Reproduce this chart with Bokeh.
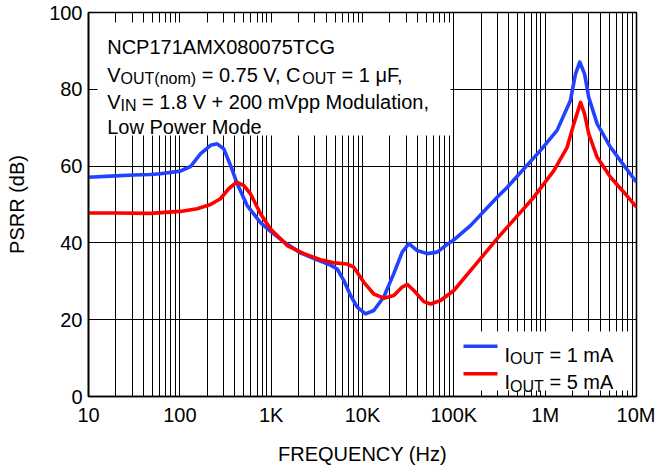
import math
from bokeh.plotting import figure
from bokeh.models import (ColumnDataSource, FixedTicker, BoxAnnotation, Label,
                          Arrow, Range1d)
from bokeh.embed import file_html
from bokeh.resources import INLINE

# ---------------- data ----------------
freq_1mA = [10, 17.4, 31.3, 47.7, 61, 101, 131, 168, 217, 256, 303, 359, 425, 547,
            764, 985, 1375, 2094, 3190, 4467, 5286, 6250, 7400, 8750, 10800, 13300,
            17100, 22000, 27200, 32200, 39700, 51000, 65700, 84500, 100000, 152000,
            298000, 385000, 889000, 1350000, 1890000, 2150000, 2390000, 2700000,
            3000000, 3710000, 5200000, 7270000, 10000000]
psrr_1mA = [57.1, 57.4, 57.7, 57.8, 58.0, 58.7, 59.9, 63.2, 65.4, 65.8, 64.5, 60.2, 55.4, 49.7,
            45.3, 43.0, 40.3, 37.4, 35.6, 34.2, 33.2, 30.2, 26.3, 23.3, 21.5, 22.4,
            25.9, 32.0, 37.6, 39.8, 38.0, 37.2, 37.6, 39.6, 40.8, 44.5,
            51.9, 54.5, 64.1, 69.3, 77.1, 84.0, 87.1, 84.0,
            77.9, 71.0, 64.9, 60.2, 55.8]

freq_5mA = [10, 20, 47.7, 101, 155, 217, 278, 343, 418, 503, 593, 764, 985, 1500, 2280,
            3470, 4850, 6800, 8000, 10300, 13300, 17100, 22000, 27200, 30900, 36500,
            46900, 55600, 71500, 100000, 152000, 196000, 298000, 385000, 751000,
            1250000, 1740000, 2060000, 2440000, 2700000, 3000000, 3710000, 5200000,
            7270000, 10000000]
psrr_5mA = [47.8, 47.8, 47.7, 48.2, 48.9, 50.0, 51.5, 54.1, 55.8, 54.9, 52.8, 47.6, 43.6, 39.3, 37.2,
            35.6, 34.8, 34.5, 33.7, 29.8, 26.7, 25.6, 26.3, 28.5, 29.2, 27.6,
            24.7, 24.1, 25.0, 27.6, 32.8, 35.9, 41.1, 44.1, 51.9,
            58.9, 64.9, 71.0, 76.6, 73.6, 68.4, 62.3, 57.1,
            53.2, 49.3]

series_values = ["1 mA", "5 mA"]
series_colors = ["#2342FF", "#FF0000"]

x_ticks = [10, 100, 1000, 10000, 100000, 1000000, 10000000]
x_tick_labels = ["10", "100", "1K", "10K", "100K", "1M", "10M"]
y_ticks = [0, 20, 40, 60, 80, 100]
y_tick_labels = ["0", "20", "40", "60", "80", "100"]
x_title = "FREQUENCY (Hz)"
y_title = "PSRR (dB)"

note_lines = [
    [("NCP171AMX080075TCG", "m")],
    [("V", "m"), ("OUT(nom)", "s"), (" = 0.75 V, C", "m"), ("OUT", "s"), (" = 1 \u03bcF,", "m")],
    [("V", "m"), ("IN", "s"), (" = 1.8 V + 200 mVpp Modulation,", "m")],
    [("Low Power Mode", "m")],
]

# ---------------- layout helpers ----------------
FONT = "Liberation Sans"
FS, SUB = 20, 16
X0, DEC = 88.0, 91.33      # page px of 10 Hz, px per decade
Y0, PPU = 396.0, 3.84      # page px of 0 dB, px per dB


def fx(px):
    return 10 ** (1 + (px - X0) / DEC)


def fy(py):
    return (Y0 - py) / PPU


W = {' ': 278, '(': 333, ')': 333, ',': 278, '.': 278, '=': 584, '+': 584,
     'A': 667, 'C': 722, 'F': 611, 'G': 778, 'I': 278, 'L': 556, 'M': 833, 'N': 722,
     'O': 778, 'P': 667, 'T': 611, 'U': 722, 'V': 667, 'X': 667, 'a': 556, 'd': 556,
     'e': 556, 'i': 222, 'l': 222, 'm': 833, 'n': 556, 'o': 556, 'p': 556, 'r': 333,
     't': 278, 'u': 556, 'w': 722, '\u03bc': 576}
for d in "0123456789":
    W[d] = 556


def tw(s, size):
    return sum(W.get(c, 556) for c in s) * size / 1000.0


p = figure(width=655, height=468, x_axis_type="log",
           x_range=Range1d(10, 1e7), y_range=Range1d(0, 100),
           output_backend="svg", toolbar_location=None, title=None,
           min_border_left=88, min_border_right=19, min_border_top=12,
           min_border_bottom=72)
p.background_fill_color = "white"
p.border_fill_color = "white"
p.outline_line_color = "black"
p.outline_line_width = 1.6

# axes
for ax, ticks, labels, title in [(p.xaxis[0], x_ticks, x_tick_labels, x_title),
                                 (p.yaxis[0], y_ticks, y_tick_labels, y_title)]:
    ax.ticker = FixedTicker(ticks=ticks)
    ax.major_label_overrides = {t: l for t, l in zip(ticks, labels)}
    ax.axis_label = title
    ax.axis_line_color = "black"
    ax.axis_line_width = 1.6
    ax.major_tick_line_color = None
    ax.minor_tick_line_color = None
    ax.major_tick_out = 0
    ax.major_tick_in = 0
    ax.major_label_text_font = FONT
    ax.major_label_text_font_size = "20px"
    ax.major_label_text_color = "black"
    ax.axis_label_text_font = FONT
    ax.axis_label_text_font_size = "20px"
    ax.axis_label_text_font_style = "normal"
    ax.axis_label_text_color = "black"
p.xaxis.major_label_standoff = 7
p.xaxis.axis_label_standoff = 14
p.yaxis.major_label_standoff = 6
p.yaxis.axis_label_standoff = 18

minor = [m * 10 ** d for d in range(1, 7) for m in range(2, 10)]
p.xgrid.ticker = FixedTicker(ticks=x_ticks, minor_ticks=minor)
p.xgrid.grid_line_color = "black"
p.xgrid.grid_line_width = 1
p.xgrid.minor_grid_line_color = "black"
p.xgrid.minor_grid_line_width = 1
p.ygrid.ticker = FixedTicker(ticks=y_ticks)
p.ygrid.grid_line_color = "black"
p.ygrid.grid_line_width = 1

for f, v, c in [(freq_1mA, psrr_1mA, series_colors[0]), (freq_5mA, psrr_5mA, series_colors[1])]:
    src = ColumnDataSource(dict(f=f, psrr=v))
    p.line("f", "psrr", source=src, line_color=c, line_width=3.6, line_join="round")

# white boxes behind the note and the legend
p.add_layout(BoxAnnotation(left=fx(97), right=fx(450), top=fy(22), bottom=fy(135),
                           fill_color="white", fill_alpha=1.0, line_color=None))
p.add_layout(BoxAnnotation(left=fx(456), right=fx(629), top=fy(331), bottom=fy(390),
                           fill_color="white", fill_alpha=1.0, line_color=None))


def put_line(pieces, px, py):
    x = px
    for text, kind in pieces:
        size = FS if kind == "m" else SUB
        base = py if kind == "m" else py + 4
        stripped = text.lstrip(" ")
        x += tw(text[:len(text) - len(stripped)], size)
        p.add_layout(Label(x=fx(x), y=fy(base), text=stripped, text_font=FONT,
                           text_font_size=f"{size}px", text_color="black",
                           text_baseline="alphabetic", text_align="left"))
        x += tw(stripped, size)


for pieces, py in zip(note_lines, [46.7, 74.3, 101.2, 126.0]):
    put_line(pieces, 106.7, py)

# legend
for i, (lab, col) in enumerate(zip(series_values, series_colors)):
    yk = 345.7 + 27.6 * i
    p.add_layout(Arrow(end=None, x_start=fx(463), y_start=fy(yk), x_end=fx(497), y_end=fy(yk),
                       line_color=col, line_width=3.6))
    put_line([("I", "m"), ("OUT", "s"), (" = " + lab, "m")], 504, yk + 8.6)

open("out.html", "w").write(file_html(p, INLINE))
